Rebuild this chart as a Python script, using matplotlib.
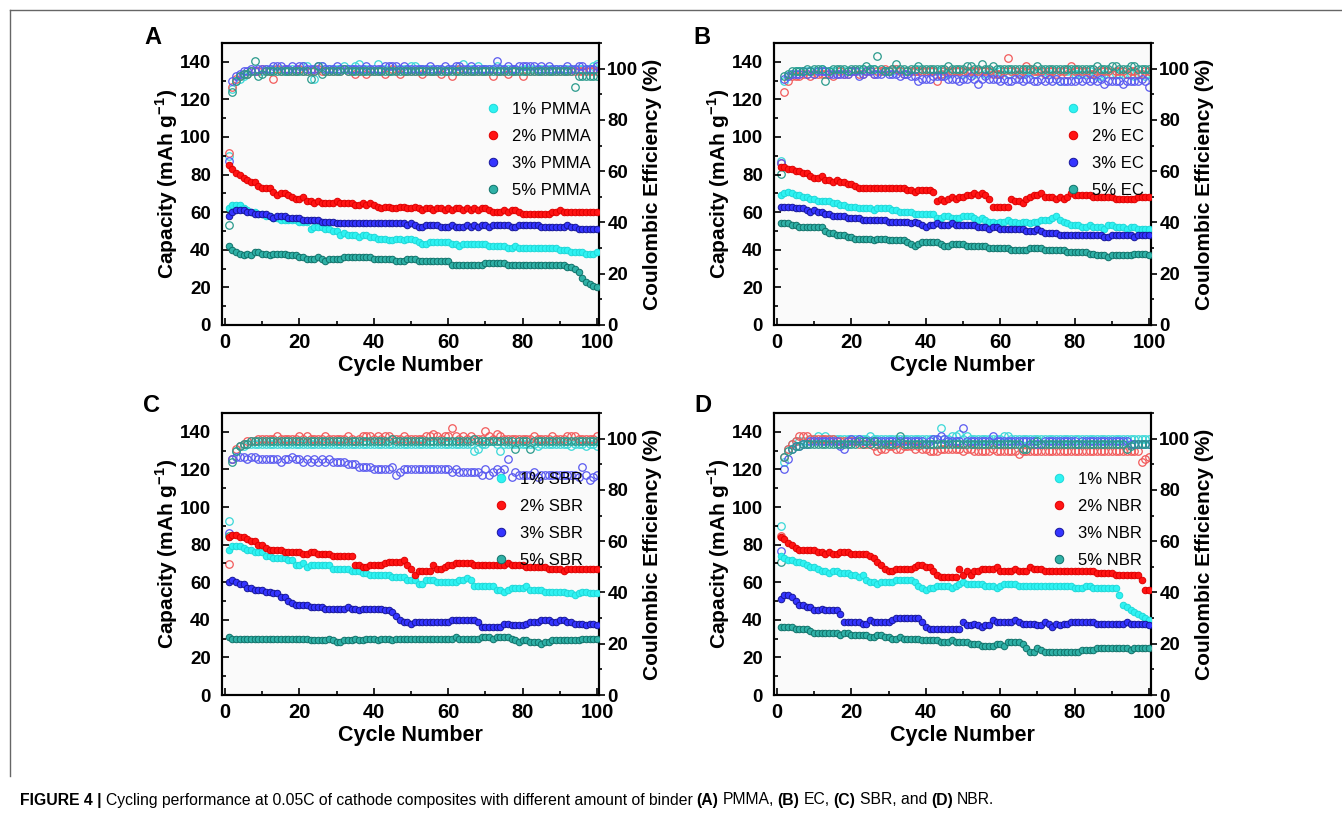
import numpy as np
import matplotlib.pyplot as plt
from matplotlib.lines import Line2D
from matplotlib.ticker import MultipleLocator

plt.rcParams['font.family'] = ['Liberation Sans', 'DejaVu Sans']
plt.rcParams['mathtext.fontset'] = 'custom'
plt.rcParams['mathtext.rm'] = 'Liberation Sans:bold'
plt.rcParams['mathtext.bf'] = 'Liberation Sans:bold'

cycles = np.arange(1, 101)
contents = ['1%', '2%', '3%', '5%']
binders = ['PMMA', 'EC', 'SBR', 'NBR']
panel_letters = ['A', 'B', 'C', 'D']

# ---- (A) PMMA: capacity (mAh/g) ----
cap_pmma_1 = [62,64,64,64,62,61,60,60,59,59, 58,58,57,57,56,56,56,56,56,55,
              55,55,51,52,52,52,51,51,50,50, 48,49,48,48,48,47,48,48,47,47,
              46,46,46,45,45,46,46,45,46,46, 45,44,43,43,44,44,44,44,44,44,
              43,43,42,43,43,43,43,43,43,43, 42,42,42,42,42,41,41,42,41,41,
              41,41,41,41,41,41,41,41,41,40, 40,40,39,39,39,39,38,38,38,39]
cap_pmma_2 = [85,83,81,80,78,77,76,76,74,73, 73,73,71,69,70,70,69,68,67,67,
              68,66,66,65,66,65,65,65,65,66, 65,65,65,65,64,64,65,64,65,64,
              63,62,63,63,62,62,63,63,62,62, 63,62,61,62,62,61,62,62,61,62,
              61,62,62,61,62,61,62,61,62,62, 61,60,60,60,61,60,61,61,60,59,
              59,59,59,59,59,59,59,60,60,61, 60,60,60,60,60,60,60,60,60,60]
cap_pmma_3 = [58,60,61,61,61,60,60,59,59,59, 59,58,57,58,58,58,57,57,57,57,
              56,56,56,56,56,55,55,55,55,54, 54,54,54,54,54,54,54,54,54,54,
              54,54,54,54,54,54,54,54,53,54, 53,52,52,53,53,53,53,52,52,52,
              53,52,52,52,53,52,53,52,53,53, 52,53,53,53,53,53,52,52,53,53,
              53,53,53,53,52,52,52,52,52,52, 52,53,52,52,51,51,51,51,51,51]
cap_pmma_5 = [42,40,39,38,37,38,37,39,39,38, 38,37,38,38,38,38,37,37,37,36,
              36,35,35,35,36,35,34,35,35,35, 35,36,36,36,36,36,36,36,36,35,
              35,35,35,35,35,34,34,34,35,35, 35,34,34,34,34,34,34,34,34,34,
              32,32,32,32,32,32,32,32,32,33, 33,33,33,33,33,32,32,32,32,32,
              32,32,32,32,32,32,32,32,32,32, 32,31,31,30,28,25,23,22,21,20]
# ---- (A) PMMA: coulombic efficiency (%) ----
ce_pmma_1 = [66,92,95,96,97,98,99,99,99,99, 100,99,100,100,100,99,99,100,99,100,
             101,101,99,96,100,101,100,100,100,100, 100,101,100,100,101,102,100,100,100,99,
             102,100,100,99,100,100,100,100,100,101, 101,100,100,100,100,99,100,100,99,100,
             100,100,100,102,100,100,100,101,100,100, 100,100,101,100,100,100,100,100,99,100,
             100,100,100,100,100,100,100,100,100,100, 100,100,100,100,100,100,100,100,101,102]
ce_pmma_2 = [67,93,96,97,98,98,99,99,99,100, 99,99,96,100,99,100,99,99,99,100,
             99,99,99,99,100,99,99,99,99,99, 99,100,99,99,98,99,99,98,99,99,
             99,99,98,99,100,99,98,99,99,99, 99,99,98,99,99,99,99,98,99,99,
             97,99,100,99,99,99,99,99,99,99, 99,97,99,99,99,98,99,99,99,97,
             99,99,99,99,99,99,99,99,99,99, 99,99,99,99,99,99,99,99,99,99]
ce_pmma_3 = [64,95,97,98,99,99,100,99,100,100, 100,100,101,101,101,100,100,101,100,101,
             101,100,100,100,101,101,100,100,100,101, 100,100,100,100,100,100,100,101,100,100,
             100,100,101,101,101,101,100,101,100,100, 100,100,100,100,101,100,100,100,101,100,
             100,101,101,100,100,101,100,100,100,100, 100,100,103,100,100,101,100,100,101,101,
             101,101,101,100,101,100,101,100,100,100, 100,101,100,100,101,101,100,100,100,101]
ce_pmma_5 = [39,91,95,97,98,98,99,103,97,98, 99,99,99,99,99,99,99,99,99,99,
             99,99,96,99,101,98,99,99,99,99, 99,100,99,99,99,99,99,99,99,99,
             99,99,99,99,99,99,99,99,99,99, 99,99,99,99,99,99,99,99,99,99,
             99,99,99,99,99,99,99,99,99,99, 99,99,99,99,99,99,99,99,99,99,
             99,99,99,99,99,99,99,99,99,99, 99,99,99,93,97,97,97,97,97,97]

# ---- (B) EC ----
cap_ec_1 = [69,70,71,70,69,69,68,68,67,67, 66,66,66,66,65,65,64,64,63,63,
            63,62,62,62,62,61,62,62,62,62, 61,61,60,60,60,60,59,59,59,59,
            59,59,57,57,58,58,57,57,57,58, 58,58,57,56,57,56,55,55,54,55,
            55,56,55,55,54,55,55,54,55,55, 56,56,56,57,58,56,55,54,53,53,
            53,52,52,53,52,52,52,51,53,53, 52,52,52,51,52,52,51,51,51,51]
cap_ec_2 = [84,84,83,83,82,82,81,81,79,78, 78,79,77,77,76,77,76,76,75,75,
            74,73,73,73,73,73,73,73,73,73, 73,73,73,73,72,72,71,72,72,72,
            72,71,66,67,66,67,68,67,68,68, 69,69,70,69,70,69,67,63,63,63,
            63,63,67,66,66,65,67,68,69,69, 70,68,68,68,67,68,67,68,70,69,
            69,69,69,69,68,68,68,68,68,68, 67,67,67,67,67,67,68,68,68,68]
cap_ec_3 = [63,63,63,63,62,62,62,61,60,61, 60,60,59,59,58,58,58,58,57,57,
            57,57,56,56,56,56,56,56,56,55, 55,55,55,55,55,54,55,54,53,52,
            53,53,54,53,53,53,54,53,53,53, 53,53,53,52,52,52,51,52,52,51,
            51,51,51,51,51,51,50,50,50,51, 50,49,49,49,49,48,48,48,48,48,
            48,48,48,48,48,48,48,47,47,48, 48,48,48,48,48,47,48,48,48,48]
cap_ec_5 = [54,54,54,53,53,52,52,52,52,52, 52,52,50,49,49,48,48,48,47,47,
            46,46,46,46,46,45,46,46,46,45, 45,45,45,45,44,43,42,43,44,44,
            44,44,44,43,42,42,43,43,43,43, 42,42,42,42,42,42,41,41,41,41,
            41,41,40,40,40,40,40,41,41,41, 41,40,40,40,40,40,40,39,39,39,
            39,39,39,38,38,37,37,37,36,37, 37,37,37,37,37,38,38,38,38,37]
ce_ec_1 = [64,95,97,98,99,99,99,99,99,99, 99,100,99,99,99,99,99,99,99,99,
           99,99,100,99,100,100,99,99,99,99, 99,100,99,99,99,99,99,100,99,99,
           99,99,99,99,98,98,99,99,99,98, 99,99,98,99,99,98,99,99,98,99,
           99,98,99,99,98,98,99,99,98,99, 99,99,98,99,99,95,99,99,99,98,
           98,99,98,99,98,97,97,98,99,98, 98,98,98,98,98,97,98,98,97,98]
ce_ec_2 = [63,91,95,97,97,97,98,98,97,98, 98,98,98,98,97,98,99,98,98,99,
           99,98,98,99,99,98,99,99,100,99, 100,100,99,98,99,99,99,99,99,99,
           99,99,95,98,99,99,99,99,99,99, 99,99,99,99,99,99,99,98,98,98,
           99,104,99,99,98,99,101,100,99,99, 99,98,99,99,98,99,99,98,101,99,
           99,99,99,98,98,99,99,99,99,98, 99,99,99,98,99,99,98,98,99,99]
ce_ec_3 = [63,96,97,98,98,98,99,98,99,98, 99,99,99,98,98,98,98,98,98,99,
           99,97,98,99,99,98,98,98,99,98, 98,98,97,98,98,97,97,95,96,96,
           96,97,97,97,97,96,96,96,95,96, 96,97,96,94,96,97,96,96,96,95,
           96,95,95,96,96,95,96,96,95,95, 96,95,96,95,96,95,95,95,95,95,
           96,95,96,95,96,95,96,94,95,95, 95,95,94,95,95,95,95,96,95,93]
ce_ec_5 = [59,97,98,99,99,99,99,100,99,100, 100,100,95,99,100,100,100,100,99,100,
           100,100,100,101,100,100,105,100,99,99, 100,102,100,100,99,100,100,101,100,100,
           100,100,100,100,100,101,100,100,100,100, 101,101,100,100,102,100,100,101,100,100,
           100,100,100,100,100,100,100,100,100,101, 100,100,100,100,100,100,100,100,100,100,
           100,100,100,100,100,101,100,100,100,101, 101,100,100,100,101,101,100,100,100,100]

# ---- (C) SBR ----
cap_sbr_1 = [77,79,79,79,78,77,77,76,76,76, 74,74,73,73,73,73,72,72,69,69,
             70,68,69,69,69,69,69,69,67,67, 67,67,67,66,66,66,65,65,64,64,
             64,64,64,64,63,63,63,63,61,61, 61,59,59,61,61,61,60,60,60,60,
             60,60,61,61,62,61,58,58,58,58, 58,58,56,56,55,56,57,57,57,57,
             58,56,56,56,56,55,55,55,55,55, 55,54,54,53,54,55,55,54,54,54]
cap_sbr_2 = [84,85,85,84,84,83,82,82,80,80, 78,77,77,77,77,76,76,76,76,76,
             75,75,76,76,75,75,75,75,74,74, 74,74,74,74,69,69,68,68,69,69,
             69,69,70,71,71,71,71,72,69,67, 64,66,66,66,66,69,67,67,68,69,
             69,70,70,70,70,70,69,69,69,69, 69,69,69,69,69,70,69,69,69,69,
             68,68,68,68,68,68,67,67,67,67, 66,67,67,67,67,67,67,67,67,67]
cap_sbr_3 = [60,61,60,59,59,57,57,56,56,56, 55,55,54,54,52,52,50,49,48,48,
             48,48,47,47,47,47,46,46,46,46, 46,46,47,46,46,45,46,46,46,46,
             46,46,45,45,44,42,40,39,39,38, 39,39,39,39,39,39,39,39,39,39,
             40,40,40,40,40,40,40,39,36,36, 36,36,36,36,38,38,37,37,37,37,
             38,39,39,39,40,40,40,39,39,40, 40,39,39,38,38,38,37,38,38,37]
cap_sbr_5 = [31,30,30,30,30,30,30,30,30,30, 30,30,30,30,30,30,30,30,30,30,
             30,30,29,29,29,29,29,30,29,28, 28,29,29,29,30,29,29,30,30,30,
             29,30,30,30,29,30,30,30,30,30, 30,30,30,30,30,30,30,30,30,30,
             30,31,30,30,30,30,30,30,31,31, 31,30,31,31,31,31,30,29,28,29,
             29,28,28,28,27,28,28,29,29,29, 29,29,29,29,29,30,30,30,30,30]
ce_sbr_1 = [68,92,95,97,97,98,98,98,98,98, 98,98,98,98,98,98,98,98,98,98,
            98,98,98,98,98,98,98,98,98,98, 98,98,98,98,98,98,98,98,98,98,
            98,98,98,98,98,98,98,98,98,98, 98,98,98,98,98,98,98,98,98,98,
            98,98,98,98,98,98,95,96,98,98, 99,99,98,95,98,98,98,98,98,98,
            98,98,98,97,98,98,98,98,98,98, 98,98,97,98,98,98,97,98,98,97]
ce_sbr_2 = [51,92,96,97,98,99,99,99,100,100, 100,100,100,101,100,100,100,100,100,101,
            100,101,100,100,100,100,101,100,100,100, 100,100,101,100,99,100,101,101,101,100,
            101,100,101,101,100,100,100,101,100,100, 100,100,100,101,101,102,101,100,101,101,
            104,101,100,101,100,101,100,100,100,103, 101,100,102,101,100,100,100,100,100,100,
            100,100,101,100,100,100,100,101,100,100, 100,101,101,101,100,100,100,100,100,101]
ce_sbr_3 = [63,92,93,93,93,92,93,93,92,92, 92,92,92,92,91,92,92,93,92,92,
            91,92,91,92,91,92,91,92,91,91, 91,91,90,90,90,89,89,89,89,88,
            88,88,88,88,89,86,87,88,88,88, 88,88,88,88,88,88,88,88,88,88,
            87,88,87,87,87,87,87,87,86,88, 86,87,88,87,88,92,85,87,86,86,
            86,86,87,85,86,86,86,86,86,86, 86,86,86,86,85,89,86,84,85,86]
ce_sbr_5 = [62,91,95,97,98,98,99,99,99,99, 99,99,99,99,99,99,99,99,99,99,
            99,99,99,99,99,99,99,99,99,99, 99,99,99,99,99,99,99,99,99,99,
            99,99,99,99,100,99,99,99,99,99, 99,99,99,99,99,99,99,99,99,99,
            99,99,99,99,99,99,100,99,99,99, 99,99,99,99,99,99,99,96,99,99,
            99,96,99,99,99,99,99,99,99,99, 99,99,99,99,99,99,99,99,99,99]

# ---- (D) NBR ----
cap_nbr_1 = [74,73,72,72,71,71,70,69,68,68, 67,66,66,65,66,66,65,65,65,64,
             64,63,64,61,60,60,59,60,60,60, 60,61,61,61,61,61,60,58,57,56,
             57,57,58,58,58,58,57,58,59,60, 59,59,59,59,59,58,58,58,57,58,
             59,59,59,59,58,58,58,58,58,58, 58,58,58,58,58,58,58,58,58,57,
             57,57,58,58,57,57,57,57,57,57, 57,53,48,47,45,44,43,42,41,40]
cap_nbr_2 = [84,83,81,80,78,77,77,77,77,77, 76,76,75,76,75,75,76,76,76,75,
             75,75,75,75,74,73,71,69,67,66, 66,67,67,67,67,67,68,69,69,68,
             68,66,64,63,63,63,63,63,67,64, 66,64,66,66,67,67,67,67,68,66,
             66,66,66,67,66,66,66,68,67,67, 67,66,66,66,66,66,66,66,66,66,
             66,66,66,66,66,65,65,65,65,65, 64,64,64,64,64,64,64,61,56,56]
cap_nbr_3 = [51,53,53,52,50,48,48,47,47,45, 45,46,45,45,45,45,43,39,39,39,
             39,39,38,38,40,39,39,39,39,39, 40,41,41,41,41,41,41,41,39,36,
             35,35,35,35,35,35,35,35,35,39, 37,37,38,37,36,37,37,40,39,39,
             39,39,39,40,39,38,38,38,38,37, 37,39,38,36,38,37,38,38,39,39,
             39,39,39,39,39,38,38,38,38,38, 38,38,38,39,38,38,38,38,38,37]
cap_nbr_5 = [36,36,36,36,35,35,35,35,34,33, 33,33,33,33,33,33,32,33,33,32,
             32,32,32,32,31,31,32,32,31,31, 30,30,31,30,30,30,30,30,29,29,
             29,29,29,28,28,28,29,28,28,28, 28,27,27,27,26,26,26,26,27,27,
             26,28,28,28,28,27,25,23,23,25, 24,23,23,23,23,23,23,23,23,23,
             23,24,24,24,24,25,25,25,25,25, 25,25,25,25,24,25,25,25,25,25]
ce_nbr_1 = [66,91,96,98,99,99,99,99,100,100, 101,100,101,100,100,100,100,100,100,100,
            100,100,100,100,101,100,100,100,100,100, 100,100,100,100,100,100,100,100,100,100,
            100,100,100,104,100,100,101,101,102,100, 101,100,100,100,100,100,100,100,100,100,
            101,101,100,100,100,100,100,100,100,100, 100,100,100,100,100,100,100,100,100,100,
            100,100,100,100,100,100,100,100,100,100, 100,100,100,100,100,100,100,100,100,100]
ce_nbr_2 = [62,93,96,98,99,101,101,101,100,100, 100,100,100,100,100,99,99,99,99,99,
            99,98,98,98,98,97,95,96,96,97, 97,96,96,97,97,97,96,97,96,96,
            95,95,95,96,96,96,96,96,96,95, 96,96,95,95,95,95,95,96,95,95,
            95,95,95,95,94,95,95,95,95,95, 95,95,95,95,95,95,95,95,95,95,
            95,95,95,95,95,95,95,95,95,95, 95,95,95,95,95,95,95,91,92,93]
ce_nbr_3 = [56,88,92,96,97,97,98,98,99,99, 99,99,99,99,99,99,97,96,99,100,
            99,100,99,99,99,99,99,99,99,99, 99,99,99,99,99,99,99,99,99,98,
            99,100,100,101,100,99,99,99,99,104, 99,99,99,99,99,99,99,101,99,99,
            99,99,99,99,99,99,99,99,99,98, 98,99,99,99,99,99,99,99,99,99,
            98,99,99,99,99,99,99,99,99,99, 99,99,99,99,98,98,98,98,98,98]
ce_nbr_5 = [52,93,95,96,97,97,98,98,98,98, 98,98,98,98,98,98,98,98,98,98,
            98,99,98,99,98,99,98,98,98,98, 98,98,101,98,98,98,98,98,98,98,
            98,98,98,98,98,98,98,98,98,98, 98,98,98,98,98,98,98,98,98,98,
            98,98,98,98,98,96,96,98,98,99, 98,98,98,98,98,98,98,98,98,98,
            98,98,98,98,98,98,98,98,98,98, 98,98,98,96,97,98,98,98,98,98]

cap_data = [[cap_pmma_1, cap_pmma_2, cap_pmma_3, cap_pmma_5],
            [cap_ec_1, cap_ec_2, cap_ec_3, cap_ec_5],
            [cap_sbr_1, cap_sbr_2, cap_sbr_3, cap_sbr_5],
            [cap_nbr_1, cap_nbr_2, cap_nbr_3, cap_nbr_5]]
ce_data = [[ce_pmma_1, ce_pmma_2, ce_pmma_3, ce_pmma_5],
           [ce_ec_1, ce_ec_2, ce_ec_3, ce_ec_5],
           [ce_sbr_1, ce_sbr_2, ce_sbr_3, ce_sbr_5],
           [ce_nbr_1, ce_nbr_2, ce_nbr_3, ce_nbr_5]]

# face, edge of filled markers; colour of open markers
fill_face = ['#2ef2f2', '#ff1414', '#3434ff', '#2fb0a6']
fill_edge = ['#1ed8d8', '#e00000', '#16169a', '#0f726a']
open_col = ['#3ad8d8', '#f25a5a', '#5a5af0', '#2a9a8c']

W, H = 1342, 816
fig = plt.figure(figsize=(W / 100, H / 100), dpi=100)

# axes boxes in pixels: left, top
boxes = [(222, 43), (774, 43), (222, 413), (774, 413)]
ax_w, ax_h = 377, 282
leg_x = [0.697, 0.771, 0.717, 0.734]
letter_pos = [(153, 37), (702, 37), (152, 405), (703, 405)]

for k in range(4):
    L, T = boxes[k]
    ax = fig.add_axes([L / W, 1 - (T + ax_h) / H, ax_w / W, ax_h / H])
    ax2 = ax.twinx()

    for i in range(4):
        ax2.plot(cycles, ce_data[k][i], 'o', ms=5.4, mfc='none',
                 mec=open_col[i], mew=0.9, zorder=2)
    handles = []
    for i in range(4):
        h, = ax.plot(cycles, cap_data[k][i], 'o', ms=4.7, mfc=fill_face[i],
                     mec=fill_edge[i], mew=0.7, zorder=3)
        handles.append(h)
    ax.set_zorder(ax2.get_zorder() + 1)
    ax.patch.set_visible(False)
    ax2.patch.set_visible(True)
    ax2.patch.set_facecolor('#fafafa')

    ax.set_xlim(-0.8, 100.5)
    ax.set_ylim(0, 150)
    ax2.set_ylim(0, 110)
    ax.xaxis.set_major_locator(MultipleLocator(20))
    ax.xaxis.set_minor_locator(MultipleLocator(10))
    ax.yaxis.set_major_locator(MultipleLocator(20))
    ax.yaxis.set_minor_locator(MultipleLocator(10))
    ax2.yaxis.set_major_locator(MultipleLocator(20))
    ax2.yaxis.set_minor_locator(MultipleLocator(10))
    ax.tick_params(which='both', direction='in', top=False, right=False,
                   width=1.2)
    ax.tick_params(axis='y', labelsize=13.5, pad=8)
    ax.tick_params(axis='x', labelsize=14.5, pad=6)
    ax.tick_params(which='major', length=5)
    ax.tick_params(which='minor', length=3)
    ax2.tick_params(which='both', direction='out', labelsize=13.5, width=1.2, pad=2)
    ax2.tick_params(which='major', length=4)
    ax2.tick_params(which='minor', length=2.5)
    for a in (ax, ax2):
        for lab in a.get_xticklabels() + a.get_yticklabels():
            lab.set_fontweight('bold')
        for s in a.spines.values():
            s.set_linewidth(1.5)

    ax.set_xlabel('Cycle Number', fontsize=15.5, fontweight='bold', labelpad=2)
    ax.set_ylabel(r'Capacity (mAh g$^{-1}$)', fontsize=15, fontweight='bold', labelpad=0)
    ax2.set_ylabel('Coulombic Efficiency (%)', fontsize=15, fontweight='bold', labelpad=3)

    labels = [c + ' ' + binders[k] for c in contents]
    ax.legend(handles, labels, loc='upper left', bbox_to_anchor=(leg_x[k], 0.79),
              frameon=False, fontsize=12, handlelength=1.0, handletextpad=0.64,
              labelspacing=0.72, borderpad=0, borderaxespad=0, markerscale=1.3)

    lx, ly = letter_pos[k]
    fig.text(lx / W, 1 - ly / H, panel_letters[k], fontsize=17, fontweight='bold',
             ha='center', va='center')

# figure frame (top and left edges)
fig.add_artist(Line2D([10 / W, 1], [1 - 10 / H] * 2, transform=fig.transFigure,
                      color='#666666', lw=1))
fig.add_artist(Line2D([10 / W] * 2, [1 - 10 / H, 1 - 776 / H], transform=fig.transFigure,
                      color='#666666', lw=1))

# caption with bold and regular pieces
parts = [('FIGURE 4 |', 'bold'),
         ('Cycling performance at 0.05C of cathode composites with different amount of binder', 'normal'),
         ('(A)', 'bold'), ('PMMA,', 'normal'), ('(B)', 'bold'), ('EC,', 'normal'),
         ('(C)', 'bold'), ('SBR, and', 'normal'), ('(D)', 'bold'), ('NBR.', 'normal')]
fig.canvas.draw()
renderer = fig.canvas.get_renderer()
x = 20
for s, w in parts:
    t = fig.text(x / W, 1 - 800 / H, s, fontsize=11.3, fontweight=w, va='center', ha='left')
    bb = t.get_window_extent(renderer=renderer)
    x = bb.x1 + 4

fig.savefig('out.png', dpi=100)
